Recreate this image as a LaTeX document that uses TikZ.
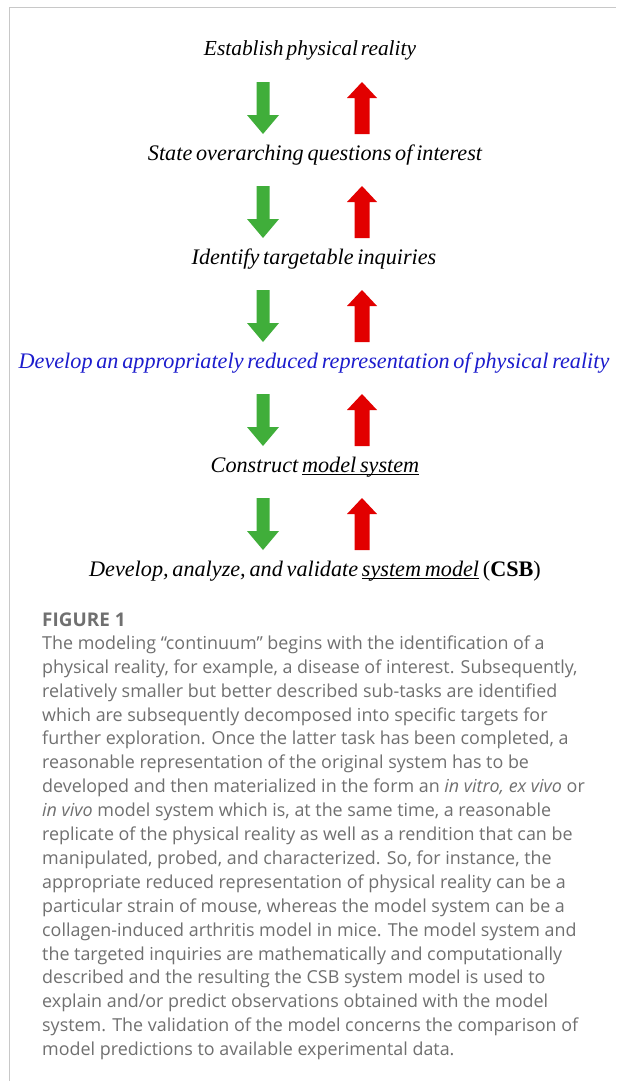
\documentclass[tikz,border=0pt]{standalone}
\usepackage{fontspec}
\setmainfont{Liberation Serif}
\newfontfamily\capfont{Open Sans}
\newsavebox\ulbox
\newcommand\myul[1]{\sbox\ulbox{#1}\rlap{\rule[-2.6pt]{\wd\ulbox}{0.9pt}}\usebox\ulbox}
\newcommand\stepfont{\fontsize{22.2}{26}\selectfont\itshape\spaceskip=0.17em plus 0.05em\relax}
\newcommand\firstfont{\fontsize{21.4}{26}\selectfont\itshape\spaceskip=0.14em plus 0.05em\relax}
\definecolor{arrgreen}{RGB}{64,174,58}
\definecolor{arrred}{RGB}{226,0,0}
\definecolor{stepblue}{RGB}{28,28,205}
\definecolor{framegray}{RGB}{200,200,200}
\definecolor{capgray}{RGB}{112,112,112}
\newcommand\mkgreenarrow[2]{% center x, top y
  \fill[arrgreen] (#1-6.5,#2) -- (#1+6.5,#2) -- (#1+6.5,#2+33) -- (#1+16,#2+33)
    -- (#1,#2+52) -- (#1-16,#2+33) -- (#1-6.5,#2+33) -- cycle;}
\newcommand\mkredarrow[2]{%
  \fill[arrred] (#1,#2) -- (#1+15,#2+16) -- (#1+7.5,#2+16) -- (#1+7.5,#2+52)
    -- (#1-7.5,#2+52) -- (#1-7.5,#2+16) -- (#1-15,#2+16) -- cycle;}
\begin{document}
\begin{tikzpicture}[x=1pt,y=-1pt,
  stepnode/.style={anchor=base,inner sep=0pt,font=\stepfont},
  capnode/.style={anchor=base west,inner sep=0pt,text=capgray}]
\useasboundingbox (0,0) rectangle (616,1081);
\fill[white] (0,0) rectangle (616,1081);
\draw[framegray,line width=1.5pt] (9.3,1081) -- (9.3,7.5) -- (616,7.5);

\node[stepnode,font=\firstfont] (s1) at (310,56) {Establish physical reality};
\node[stepnode] (s2) at (315,160) {State overarching questions of interest};
\node[stepnode] (s3) at (314,264) {Identify targetable inquiries};
\node[stepnode,text=stepblue] (s4) at (314,368) {Develop an appropriately reduced representation of physical reality};
\node[stepnode] (s5) at (315,472) {Construct \myul{model system}};
\node[stepnode] (s6) at (315,576) {Develop, analyze, and validate \myul{system model} \textup{(\textbf{CSB})}};

\foreach \t in {82,186,290,394,498}{
  \mkgreenarrow{263}{\t}
  \mkredarrow{362}{\t}
}

\node[capnode,font=\capfont\bfseries\fontsize{18.9}{22}\selectfont] (fig) at (42,626) {FIGURE 1};
\node[capnode,font=\capfont\fontsize{17.9}{23.9}\selectfont] (cap) at (42,649.3) {\vtop{\baselineskip=23.9pt
\hbox{The modeling “continuum” begins with the identification of a}
\hbox{physical reality, for example, a disease of interest. Subsequently,}
\hbox{relatively smaller but better described sub-tasks are identified}
\hbox{which are subsequently decomposed into specific targets for}
\hbox{further exploration. Once the latter task has been completed, a}
\hbox{reasonable representation of the original system has to be}
\hbox{developed and then materialized in the form an \textit{in vitro, ex vivo} or}
\hbox{\textit{in vivo} model system which is, at the same time, a reasonable}
\hbox{replicate of the physical reality as well as a rendition that can be}
\hbox{manipulated, probed, and characterized. So, for instance, the}
\hbox{appropriate reduced representation of physical reality can be a}
\hbox{particular strain of mouse, whereas the model system can be a}
\hbox{collagen-induced arthritis model in mice. The model system and}
\hbox{the targeted inquiries are mathematically and computationally}
\hbox{described and the resulting the CSB system model is used to}
\hbox{explain and/or predict observations obtained with the model}
\hbox{system. The validation of the model concerns the comparison of}
\hbox{model predictions to available experimental data.}}};
\end{tikzpicture}
\end{document}
